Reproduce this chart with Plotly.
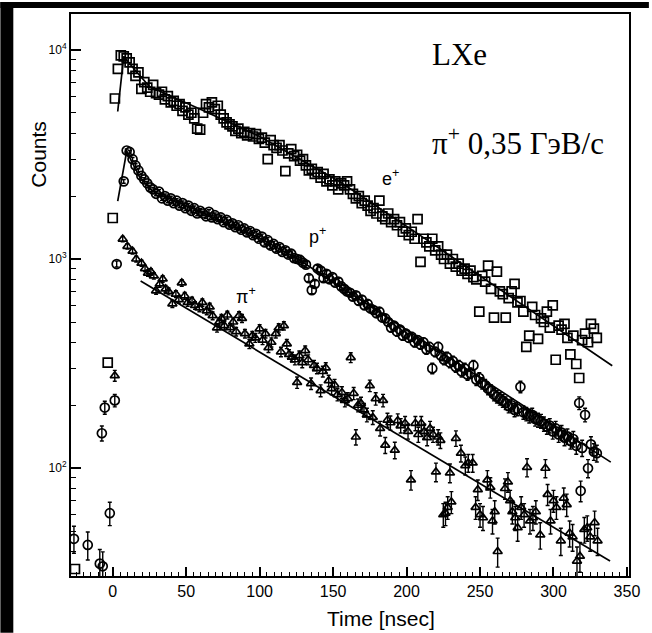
import numpy as np
import plotly.graph_objects as go

# ---------------- data ----------------
# e+ : open squares, regular 2 ns bins starting at 1.5 ns
e_bin_start = 1.5
e_bin_width = 2.0
e_counts = [
    5850, 8100, 9400, 9300, 9100, 8700, 8100, 7500, 7800, 6500,
    7000, 6600, 6300, 6800, 6200, 6100, 6300, 5800, 6000, 5600,
    5700, 5400, 5500, 5100, 5300, 4900, 5000, 4700, 4200, 4150,
    5000, 5500, 5300, 5600, 5200, 5400, 4900, 4700, 4500, 4400,
    4300, 4100, 4200, 4000, 4050, 3900, 4000, 3850, 3950, 3750,
    3800, 3600, 3000, 3700, 3500, 3400, 3500, 3300, 2630, 3200,
    3350, 3100, 3150, 2950, 3000, 2800, 2650, 2700, 2550, 2600,
    2450, 2550, 2350, 2400, 2250, 2350, 2150, 2300, 2250, 2350,
    2150, 2050, 1950, 2000, 1850, 1900, 1800, 1700, 1750, 1650,
    1900, 1600, 1550, 1650, 1500, 1550, 1450, 1500, 1350, 1400,
    1300, 1350, 1250, 1550, 970, 1250, 1200, 1150, 1250, 1100,
    1150, 1050, 1000, 1050, 950, 1000, 920, 950, 880, 900,
    850, 880, 820, 800, 560, 830, 780, 930, 720, 525,
    870, 700, 680, 525, 650, 700, 760, 620, 630, 560,
    380, 430, 590, 540, 415, 520, 500, 560, 470, 600,
    330, 480, 460, 490, 420, 350, 430, 315, 270, 410,
    440, 400, 490, 465, 420,
]
e_extra_t = [-25.7, -3.4, 0.0]
e_extra_counts = [33, 320, 1570]

# p+ : open circles, regular 2 ns bins starting at 7.5 ns
p_bin_start = 7.5
p_bin_width = 2.0
p_counts = [
    2350, 3300, 3250, 3000, 2800, 2650, 2500, 2400, 2300, 2200,
    2150, 2050, 2100, 1950, 2000, 1900, 1950, 1850, 1900, 1800,
    1850, 1750, 1800, 1700, 1750, 1650, 1700, 1650, 1600, 1680,
    1580, 1620, 1550, 1580, 1500, 1540, 1460, 1480, 1420, 1450,
    1380, 1400, 1340, 1360, 1300, 1320, 1250, 1280, 1200, 1230,
    1160, 1180, 1120, 1140, 1080, 1100, 1050, 1060, 1010, 1000,
    990, 960, 940, 810, 710, 760, 900, 880, 810, 850,
    800, 820, 770, 780, 740, 720, 700, 690, 660, 670,
    630, 640, 600, 610, 580, 570, 550, 560, 525, 520,
    500, 470, 480, 450, 460, 430, 440, 420, 425, 400,
    410, 390, 400, 370, 380, 300, 360, 380, 345, 330,
    340, 320, 325, 305, 310, 290, 300, 280, 285, 310,
    265, 270, 255, 250, 240, 235, 225, 220, 215, 210,
    205, 198, 200, 190, 192, 245, 185, 182, 178, 180,
    172, 170, 168, 163, 158, 160, 150, 155, 145, 148,
    140, 142, 135, 138, 128, 205, 125, 180, 100, 130,
    120, 118,
]
p_extra_t = [-26.4, -17.0, -8.8, -6.8, -7.4, -5.4, 1.4, -2.0, 2.7, 318.5]
p_extra_counts = [46, 43, 35, 34, 147, 195, 211, 61, 946, 78]

# pi+ : open triangles
pi_t = [
    1.4, 6.8, 10, 13.5, 16, 19.6, 22, 24, 26, 28,
    29.5, 32, 34, 36, 38, 40.6, 43, 45, 47, 49,
    51, 54, 56, 59, 61, 64, 66, 68, 71, 72.5,
    74, 76, 78, 80, 82, 84, 86, 88, 90, 93,
    95, 97, 100, 102, 104, 106, 108, 111, 113, 114.5,
    116.5, 118.5, 120, 122, 124, 125.5, 127, 129, 131, 133,
    135, 137, 139, 141.5, 143, 145, 147, 149, 151, 153,
    156, 158, 160, 162, 164, 165.5, 167, 169, 171, 173,
    175, 177, 179, 182, 184, 185.5, 187, 189, 192, 194,
    196, 199, 201, 203, 206, 208, 210, 212, 214, 216,
    218, 220, 221.5, 223, 225, 226.5, 228, 229.5, 230.5, 233.6,
    237, 240, 242, 245, 247, 248.5, 250, 252, 255, 257,
    258.5, 260, 262, 267, 269, 270.5, 272, 274, 275.6, 278,
    280, 282, 284, 286, 288, 291, 294.5, 296, 298, 300,
    302, 305, 307, 309, 311, 313, 316, 318, 321, 323,
    325, 328, 330,
]
pi_counts = [
    277, 1245, 1150, 1090, 1000, 955, 900, 857, 870, 830,
    705, 760, 803, 720, 700, 611, 680, 640, 769, 667,
    620, 631, 600, 584, 620, 565, 590, 536, 469, 500,
    520, 480, 540, 470, 500, 450, 537, 520, 440, 393,
    430, 420, 464, 410, 440, 377, 400, 440, 469, 360,
    480, 393, 350, 340, 330, 257, 345, 320, 365, 330,
    254, 310, 300, 235, 290, 302, 262, 240, 250, 225,
    230, 211, 215, 338, 228, 141, 200, 204, 190, 180,
    248, 175, 215, 155, 211, 129, 170, 165, 122, 169,
    160, 164, 150, 88, 164, 145, 164, 150, 140, 155,
    145, 96, 141, 136, 60, 61, 65, 95, 69, 139,
    118, 103, 106, 106, 65, 79, 60, 58, 88, 81,
    56, 62, 40, 80, 86, 70, 62, 58, 52, 65,
    60, 101, 56, 58, 62, 48, 100, 75, 56, 70,
    65, 45, 72, 67, 49, 47, 36, 38, 51, 52,
    47, 55, 45,
]

# fitted curves (knots)
fit_e_t = [3.4, 7.5, 15, 25, 60, 100, 154, 208, 340]
fit_e_counts = [5070, 9300, 8030, 6665, 5180, 3853, 2351, 1315, 309]
fit_p_t = [3.4, 9.5, 18, 27, 59, 100, 127, 228, 339]
fit_p_counts = [1890, 3266, 2483, 2108, 1693, 1260, 990, 341, 107]
fit_pi_t = [19, 338.5]
fit_pi_counts = [785, 36]

x_tick_vals = [0, 50, 100, 150, 200, 250, 300, 350]
y_tick_vals = [100, 1000, 10000]
y_tick_text = ["10<sup>2</sup>", "10<sup>3</sup>", "10<sup>4</sup>"]

# ---------------- figure ----------------
e_t = [e_bin_start + e_bin_width * i for i in range(len(e_counts))] + e_extra_t
e_y = e_counts + e_extra_counts
p_t = [p_bin_start + p_bin_width * i for i in range(len(p_counts))] + p_extra_t
p_y = p_counts + p_extra_counts

fig = go.Figure()
mk_line = dict(color="black", width=1.7)

fig.add_trace(go.Scatter(x=e_t, y=e_y, mode="markers",
                         marker=dict(symbol="square-open", size=9, color="black", line=mk_line)))
fig.add_trace(go.Scatter(x=p_t, y=p_y, mode="markers",
                         marker=dict(symbol="circle-open", size=9, color="black", line=mk_line),
                         error_y=dict(type="data", array=list(np.sqrt(p_y)), color="black",
                                      thickness=1.4, width=2)))
fig.add_trace(go.Scatter(x=pi_t, y=pi_counts, mode="markers",
                         marker=dict(symbol="triangle-up-open", size=8, color="black", line=mk_line),
                         error_y=dict(type="data", array=list(np.sqrt(pi_counts)), color="black",
                                      thickness=1.4, width=2)))
for ft, fy in [(fit_e_t, fit_e_counts), (fit_p_t, fit_p_counts), (fit_pi_t, fit_pi_counts)]:
    fig.add_trace(go.Scatter(x=ft, y=fy, mode="lines", line=dict(color="black", width=1.7)))

L, R, T, B = 71, 20, 12, 57
W, H = 652, 633
pw, ph = W - L - R, H - T - B


def px(xp):
    return (xp - L) / pw


def py(yp):
    return (H - B - yp) / ph


fig.update_layout(
    width=W, height=H,
    margin=dict(l=L, r=R, t=T, b=B, pad=0),
    paper_bgcolor="white", plot_bgcolor="white",
    showlegend=False,
    font=dict(family="Liberation Sans, Arial, sans-serif", color="black"),
    xaxis=dict(range=[-28.4, 351.4], tickvals=x_tick_vals, ticks="inside", ticklen=9,
               tickwidth=1.5, tickcolor="black", showline=True, linecolor="black", linewidth=2,
               mirror=True, showgrid=False, zeroline=False, tickfont=dict(size=16),
               minor=dict(dtick=5, tick0=0, ticks="inside", ticklen=4, tickwidth=1.2,
                          tickcolor="black", showgrid=False)),
    yaxis=dict(type="log", range=[1.485, 4.171], tickvals=y_tick_vals, ticktext=y_tick_text,
               ticks="inside", ticklen=10, tickwidth=1.5, tickcolor="black", showline=True,
               linecolor="black", linewidth=2, mirror=True, showgrid=False, zeroline=False,
               tickfont=dict(size=12),
               minor=dict(tickvals=[m * 10 ** k for k in (1, 2, 3) for m in range(2, 10)],
                          ticks="inside", ticklen=5, tickwidth=1.2, tickcolor="black",
                          showgrid=False)),
)

serif = "Liberation Serif, Times New Roman, serif"
sans = "Liberation Sans, Arial, sans-serif"
anns = [
    dict(text="LXe", x=px(432), y=py(53), xanchor="left", yanchor="middle",
         font=dict(family=serif, size=31)),
    dict(text="π<sup>+</sup> 0,35 ГэВ/с", x=px(432), y=py(140), xanchor="left", yanchor="middle",
         font=dict(family=serif, size=31)),
    dict(text="e<sup>+</sup>", x=px(382), y=py(176), xanchor="left", yanchor="middle",
         font=dict(family=sans, size=18)),
    dict(text="p<sup>+</sup>", x=px(308), y=py(234), xanchor="left", yanchor="middle",
         font=dict(family=sans, size=18)),
    dict(text="π<sup>+</sup>", x=px(235), y=py(294), xanchor="left", yanchor="middle",
         font=dict(family=sans, size=18)),
    dict(text="Counts", x=px(38), y=py(153), textangle=-90, xanchor="center", yanchor="middle",
         font=dict(family=sans, size=21)),
    dict(text="Time [nsec]", x=px(383), y=py(619), xanchor="center", yanchor="middle",
         font=dict(family=sans, size=21)),
]
for a in anns:
    a.update(xref="paper", yref="paper", showarrow=False)
fig.update_layout(annotations=anns)

fig.update_layout(shapes=[
    dict(type="rect", xref="paper", yref="paper", x0=px(0), x1=px(13), y0=py(H), y1=py(0),
         fillcolor="black", line=dict(width=0)),
    dict(type="rect", xref="paper", yref="paper", x0=px(0), x1=px(W), y0=py(6), y1=py(0),
         fillcolor="black", line=dict(width=0)),
])

fig.write_html("out.html")
